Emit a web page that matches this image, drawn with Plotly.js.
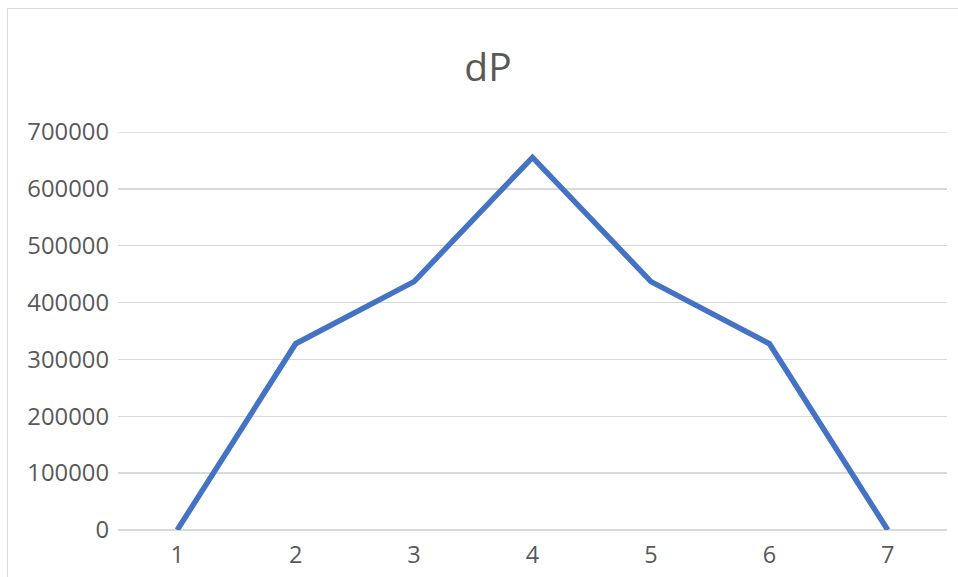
<!DOCTYPE html>
<html>
<head>
<meta charset="utf-8">
<script src="https://cdn.plot.ly/plotly-3.0.1.min.js"></script>
<style>
html,body{margin:0;padding:0;background:#fff;}
#wrap{position:relative;width:958px;height:577px;}
#chart{width:958px;height:577px;}
#frame{position:absolute;left:7px;top:8px;width:960px;height:580px;border:1.5px solid #d9d9d9;pointer-events:none;box-sizing:border-box;}
</style>
</head>
<body>
<div id="wrap"><div id="chart"></div><div id="frame"></div></div>
<script>
var categories = ["1", "2", "3", "4", "5", "6", "7"];
var dP = [0, 327680, 436907, 655360, 436907, 327680, 0];
var yTicks = [0, 100000, 200000, 300000, 400000, 500000, 600000, 700000];

var trace = {
  x: categories,
  y: dP,
  type: 'scatter',
  mode: 'lines',
  line: {color: '#4472C4', width: 5.5, shape: 'linear'},
  hoverinfo: 'x+y'
};

var layout = {
  width: 958,
  height: 577,
  margin: {l: 118, r: 11, t: 132, b: 47},
  paper_bgcolor: '#ffffff',
  plot_bgcolor: '#ffffff',
  showlegend: false,
  font: {family: '"Open Sans", "Noto Sans", sans-serif', color: '#595959', size: 24},
  title: {
    text: 'dP',
    font: {family: '"Open Sans", "Noto Sans", sans-serif', size: 39, color: '#595959'},
    x: 488/958, xref: 'container', xanchor: 'center',
    y: 1 - 67/577, yref: 'container', yanchor: 'middle'
  },
  xaxis: {
    type: 'category',
    range: [-0.5, 6.5],
    showgrid: false,
    zeroline: false,
    showline: false,
    ticks: '',
    ticklabelstandoff: 8,
    tickfont: {size: 23.5, color: '#595959'}
  },
  yaxis: {
    range: [0, 700000],
    tickvals: yTicks,
    ticktext: yTicks.map(String),
    showgrid: true,
    gridcolor: '#d9d9d9',
    gridwidth: 1.5,
    zeroline: true,
    zerolinecolor: '#d9d9d9',
    zerolinewidth: 1.5,
    showline: false,
    ticks: '',
    ticklabelstandoff: 8,
    tickfont: {size: 23.8, color: '#595959'}
  },
  shapes: [{
    type: 'line', xref: 'paper', yref: 'y', layer: 'below',
    x0: 0, x1: 1, y0: yTicks[yTicks.length - 1], y1: yTicks[yTicks.length - 1],
    line: {color: '#d9d9d9', width: 1.5}
  }]
};

Plotly.newPlot('chart', [trace], layout, {displayModeBar: false, staticPlot: true});
</script>
</body>
</html>
